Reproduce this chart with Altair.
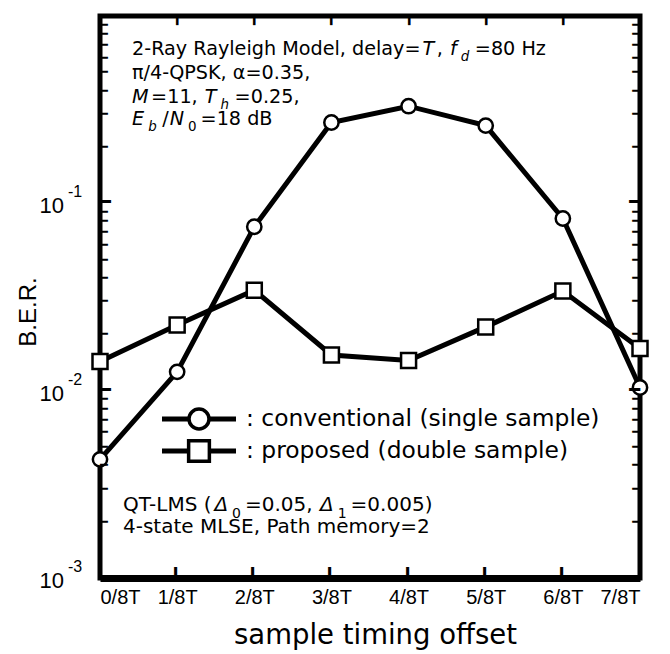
import json
import altair as alt
import pandas as pd

# ---------------- data ----------------
offsets = [0, 1, 2, 3, 4, 5, 6, 7]
offset_labels = ["0/8T", "1/8T", "2/8T", "3/8T", "4/8T", "5/8T", "6/8T", "7/8T"]
ber_conventional = [0.0043, 0.0126, 0.075, 0.27, 0.33, 0.26, 0.083, 0.0104]
ber_proposed = [0.0143, 0.0224, 0.0344, 0.0155, 0.0145, 0.0219, 0.034, 0.0168]
series_names = ["conventional", "proposed"]
decades = [0.001, 0.01, 0.1]
decade_exponents = ["-3", "-2", "-1"]
minor_vals = [m * 10.0 ** k for k in (-3, -2, -1) for m in range(2, 10)]
major_vals = [0.01, 0.1]
inner_x_ticks = offsets[1:-1]

# ---------------- layout constants ----------------
W, H = 540, 562
PAD_L, PAD_T = 100, 16
FONT = "DejaVu Sans"
HELV = "Liberation Sans"
X_MIN, X_MAX = 0, 7
Y_MIN, Y_MAX = 0.001, 1.0
TICK_GLYPH = "━"

rows = []
for name, vals in zip(series_names, (ber_conventional, ber_proposed)):
    rows += [{"offset": o, "ber": b, "series": name} for o, b in zip(offsets, vals)]
df = pd.DataFrame(rows)

xscale = alt.Scale(domain=[X_MIN, X_MAX], nice=False, zero=False)
yscale = alt.Scale(type="log", domain=[Y_MIN, Y_MAX], nice=False)

xaxis = alt.Axis(
    values=offsets,
    labelExpr=json.dumps(offset_labels) + "[datum.value]",
    ticks=False, grid=False,
    domain=True, domainColor="black", domainWidth=7,
    labelFont=HELV, labelFontSize=20, labelColor="black", labelPadding=9,
    labelOverlap=False,
    title="sample timing offset", titleFont=FONT, titleFontSize=27.5,
    titleFontWeight="normal", titleColor="black",
    titleBaseline="alphabetic", titleY=65, titleX=W / 2 + 5,
)


def X(field):
    return alt.X(field, scale=xscale, axis=xaxis)


def Y(field):
    return alt.Y(field, scale=yscale, axis=None)


base = alt.Chart(df)
lines = base.mark_line(color="black", strokeWidth=5).encode(
    x=X("offset:Q"), y=Y("ber:Q"), detail="series:N",
)
pt_style = dict(filled=True, fill="white", stroke="black", strokeWidth=2.5,
                fillOpacity=1, strokeOpacity=1, opacity=1)
circles = base.transform_filter(alt.datum.series == series_names[0]).mark_point(
    shape="circle", size=205, **pt_style
).encode(x=X("offset:Q"), y=Y("ber:Q"))
squares = base.transform_filter(alt.datum.series == series_names[1]).mark_point(
    shape="square", size=225, **pt_style
).encode(x=X("offset:Q"), y=Y("ber:Q"))

# ---------------- inward frame ticks (drawn as heavy box-drawing glyphs) ----------------
ymin_df = pd.DataFrame({"v": minor_vals, "g": [TICK_GLYPH] * len(minor_vals)})
ymaj_df = pd.DataFrame({"v": major_vals, "g": [TICK_GLYPH] * len(major_vals)})
xt_df = pd.DataFrame({"t": inner_x_ticks, "g": [TICK_GLYPH] * len(inner_x_ticks)})

tick_layers = []
for d, fs in ((ymin_df, 13), (ymaj_df, 18)):
    tick_layers.append(alt.Chart(d).mark_text(
        align="left", baseline="middle", font=FONT, fontSize=fs, color="black"
    ).encode(y=Y("v:Q"), x=alt.value(0), text="g:N"))
    tick_layers.append(alt.Chart(d).mark_text(
        align="right", baseline="middle", font=FONT, fontSize=fs, color="black"
    ).encode(y=Y("v:Q"), x=alt.value(W), text="g:N"))
tick_layers.append(alt.Chart(xt_df).mark_text(
    align="left", baseline="middle", font=FONT, fontSize=15, color="black", angle=90
).encode(x=X("t:Q"), y=alt.value(0), text="g:N"))
tick_layers.append(alt.Chart(xt_df).mark_text(
    align="left", baseline="middle", font=FONT, fontSize=18, color="black", angle=270
).encode(x=X("t:Q"), y=alt.value(H), text="g:N"))

# ---------------- y tick labels 10^k ----------------
dec_df = pd.DataFrame({"v": decades, "e": decade_exponents})
ylab_base = alt.Chart(dec_df).mark_text(
    align="right", baseline="middle", font=HELV, fontSize=22, color="black", dy=3
).encode(y=Y("v:Q"), x=alt.value(64 - PAD_L), text=alt.value("10"))
ylab_exp = alt.Chart(dec_df).mark_text(
    align="left", baseline="middle", font=HELV, fontSize=16, color="black", dy=-11
).encode(y=Y("v:Q"), x=alt.value(68 - PAD_L), text="e:N")

one = pd.DataFrame({"a": [0]})


def txt(text, x, y, size, italic=False, font=FONT, align="left",
        baseline="alphabetic", angle=0):
    props = dict(text=text, align=align, baseline=baseline, font=font,
                 fontSize=size, color="black",
                 fontStyle="italic" if italic else "normal")
    if angle:
        props["angle"] = angle
    return alt.Chart(one).mark_text(**props).encode(
        x=alt.value(x - PAD_L), y=alt.value(y - PAD_T))


# DejaVu Sans advance widths (units per em 2048) for layout of rich-text runs
ADV = {' ': 651, '(': 799, ')': 799, ',': 651, '-': 739, '.': 651, '/': 690,
       ':': 690, '=': 1716, 'D': 1577, 'E': 1294, 'H': 1540, 'K': 1343,
       'L': 1141, 'M': 1767, 'N': 1532, 'P': 1235, 'Q': 1612, 'R': 1423,
       'S': 1300, 'T': 1251, 'a': 1255, 'b': 1300, 'd': 1300, 'e': 1260,
       'f': 721, 'g': 1300, 'h': 1298, 'i': 569, 'l': 569, 'm': 1995,
       'o': 1253, 'r': 842, 's': 1067, 't': 803, 'y': 1212, 'z': 1075,
       'π': 1233, 'α': 1300, 'Δ': 1401}


def width(s, size):
    return sum(ADV.get(c, 1303) for c in s) / 2048.0 * size


def rich_line(x0, baseline, size, segs):
    out = []
    x = x0
    prev_italic = False
    for text, kind in segs:
        italic = kind in ("i", "isub")
        sub = kind in ("sub", "isub")
        if sub:
            fs = size * 0.7
            y = baseline + size * 0.33
            if prev_italic:
                x += 3.0
        else:
            fs = size
            y = baseline
            if prev_italic and not italic:
                x += size * 0.08
        out.append(txt(text, x, y, fs, italic=italic))
        x += width(text, fs) + (4.0 if sub else 1.0)
        prev_italic = italic
    return out


TOP = 19.2
BOT = 20
annotations = []
annotations += rich_line(132, 55, TOP, [("2-Ray Rayleigh Model, delay=", "n"), ("T", "i"),
                                        (", ", "n"), ("f", "i"), ("d", "isub"),
                                        ("=80 Hz", "n")])
annotations += rich_line(132, 79, TOP, [("π/4-QPSK, α=0.35,", "n")])
annotations += rich_line(132, 103, TOP, [("M", "i"), ("=11, ", "n"), ("T", "i"),
                                         ("h", "isub"), ("=0.25,", "n")])
annotations += rich_line(132, 125, TOP, [("E", "i"), ("b", "isub"), ("/", "n"),
                                         ("N", "i"), ("0", "sub"), ("=18 dB", "n")])
annotations += rich_line(123, 511, BOT, [("QT-LMS (", "n"), ("Δ", "i"), ("0", "sub"),
                                         ("=0.05, ", "n"), ("Δ", "i"), ("1", "sub"),
                                         ("=0.005)", "n")])
annotations += rich_line(123, 533, BOT, [("4-state MLSE, Path memory=2", "n")])

# y axis title
annotations.append(txt("B.E.R.", 29, 312, 24, font=HELV, align="center",
                       baseline="middle", angle=270))

# ---------------- legend (inline, like the original) ----------------
legend_rows = [(419, "circle", 400, ": conventional (single sample)"),
               (451, "square", 430, ": proposed (double sample)")]
legend = []
for ly, shape, sz, label in legend_rows:
    legend.append(alt.Chart(one).mark_rule(color="black", strokeWidth=5).encode(
        x=alt.value(162 - PAD_L), x2=alt.value(236 - PAD_L), y=alt.value(ly - PAD_T)))
    legend.append(alt.Chart(one).mark_point(shape=shape, size=sz, filled=True, fill="white",
                                            stroke="black", strokeWidth=3.5, opacity=1).encode(
        x=alt.value(199 - PAD_L), y=alt.value(ly - PAD_T)))
    legend.append(txt(label, 246, ly, 23.4, baseline="middle"))

chart = alt.layer(
    lines, circles, squares, ylab_base, ylab_exp, *tick_layers, *annotations, *legend
).properties(
    width=W, height=H,
    autosize=alt.AutoSizeParams(type="none"),
    padding={"left": PAD_L, "top": PAD_T, "right": 670 - PAD_L - W, "bottom": 654 - PAD_T - H},
    background="white",
).configure_view(stroke="black", strokeWidth=5)

chart.save("out.html", embed_options={"renderer": "svg", "actions": False})
